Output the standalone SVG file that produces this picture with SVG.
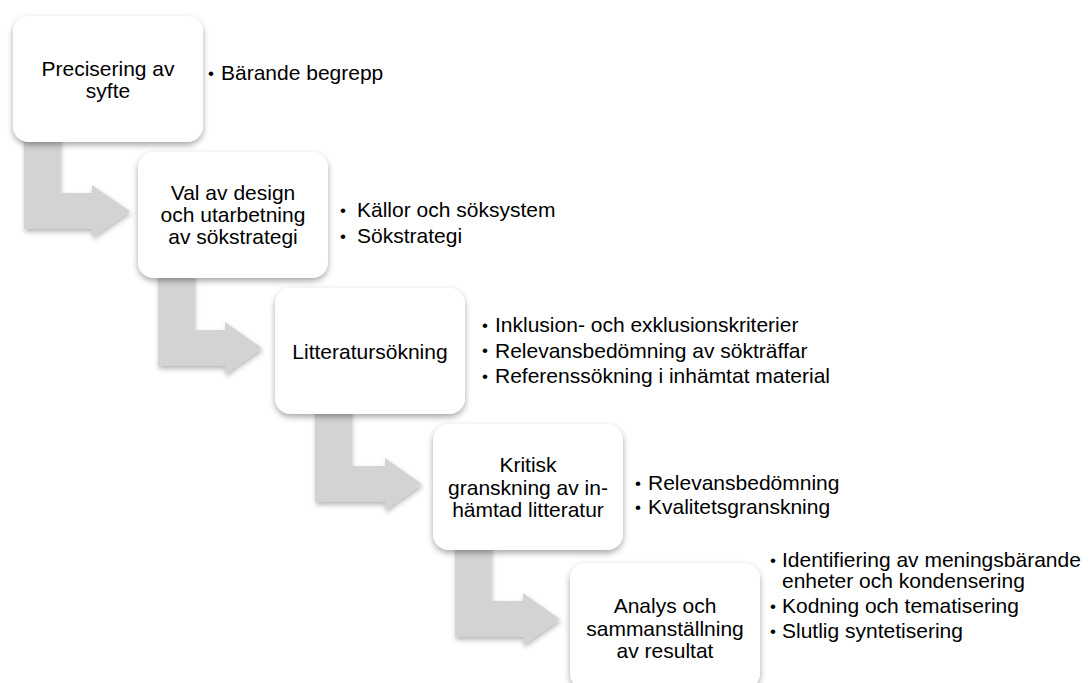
<svg xmlns="http://www.w3.org/2000/svg" width="1089" height="683" viewBox="0 0 1089 683">
  <defs>
    <filter id="shadow" x="-20%" y="-20%" width="140%" height="150%">
      <feDropShadow dx="0" dy="3" stdDeviation="3" flood-color="#000" flood-opacity="0.35"/>
    </filter>
    <filter id="ashadow" x="-20%" y="-20%" width="140%" height="150%">
      <feDropShadow dx="1" dy="3" stdDeviation="2.5" flood-color="#000" flood-opacity="0.28"/>
    </filter>
  </defs>
  <style>
    .box { fill: #ffffff; filter: url(#shadow); }
    .arrow { fill: #d3d3d3; filter: url(#ashadow); }
    .t { font-family: "Liberation Sans", Arial, sans-serif; font-size: 21px; fill: #000; }
    .b { font-family: "Liberation Sans", Arial, sans-serif; font-size: 17px; fill: #000; }
    .c { text-anchor: middle; }
  </style>
  <rect width="1089" height="683" fill="#ffffff"/>

  <g id="connectors">
    <path class="arrow" d="M24,100 L60,100 L60,193 L92,193 L92,185 L130,211 L92,237 L92,229 L24,229 Z"/>
    <path class="arrow" d="M158,240 L194,240 L194,330 L225,330 L225,322 L262,348 L225,374 L225,366 L158,366 Z"/>
    <path class="arrow" d="M315,380 L351,380 L351,466 L385,466 L385,458 L422,484 L385,510 L385,502 L315,502 Z"/>
    <path class="arrow" d="M455,520 L491,520 L491,601 L523,601 L523,593 L560,619 L523,645 L523,637 L455,637 Z"/>
  </g>

  <g id="node1">
    <rect class="box" x="13" y="16" width="190" height="126" rx="16"/>
    <text class="t c" x="108" y="75.5">Precisering av</text>
    <text class="t c" x="108" y="98">syfte</text>
    <text class="b" x="208" y="78.8">•</text>
    <text class="t" x="221" y="80">Bärande begrepp</text>
  </g>

  <g id="node2">
    <rect class="box" x="138" y="152" width="190" height="126" rx="16"/>
    <text class="t c" x="233" y="200">Val av design</text>
    <text class="t c" x="233" y="222">och utarbetning</text>
    <text class="t c" x="233" y="244">av sökstrategi</text>
    <text class="b" x="340" y="215.8">•</text>
    <text class="t" x="357" y="217">Källor och söksystem</text>
    <text class="b" x="340" y="241.8">•</text>
    <text class="t" x="357" y="243">Sökstrategi</text>
  </g>

  <g id="node3">
    <rect class="box" x="275" y="288" width="190" height="126" rx="16"/>
    <text class="t c" x="370" y="358.5">Litteratursökning</text>
    <text class="b" x="482" y="330.8">•</text>
    <text class="t" x="495" y="332">Inklusion- och exklusionskriterier</text>
    <text class="b" x="482" y="356.3">•</text>
    <text class="t" x="495" y="357.5">Relevansbedömning av sökträffar</text>
    <text class="b" x="482" y="381.8">•</text>
    <text class="t" x="495" y="383">Referenssökning i inhämtat material</text>
  </g>

  <g id="node4">
    <rect class="box" x="433" y="424" width="190" height="126" rx="16"/>
    <text class="t c" x="528" y="472">Kritisk</text>
    <text class="t c" x="528" y="494.5">granskning av in-</text>
    <text class="t c" x="528" y="517">hämtad litteratur</text>
    <text class="b" x="635" y="488.8">•</text>
    <text class="t" x="648" y="490">Relevansbedömning</text>
    <text class="b" x="635" y="512.8">•</text>
    <text class="t" x="648" y="514">Kvalitetsgranskning</text>
  </g>

  <g id="node5">
    <rect class="box" x="570" y="563" width="190" height="126" rx="16"/>
    <text class="t c" x="665" y="613">Analys och</text>
    <text class="t c" x="665" y="635.5">sammanställning</text>
    <text class="t c" x="665" y="658">av resultat</text>
    <text class="b" x="770" y="565.8">•</text>
    <text class="t" x="782" y="567">Identifiering av meningsbärande</text>
    <text class="t" x="782" y="588">enheter och kondensering</text>
    <text class="b" x="770" y="611.8">•</text>
    <text class="t" x="782" y="613">Kodning och tematisering</text>
    <text class="b" x="770" y="636.8">•</text>
    <text class="t" x="782" y="638">Slutlig syntetisering</text>
  </g>
</svg>
